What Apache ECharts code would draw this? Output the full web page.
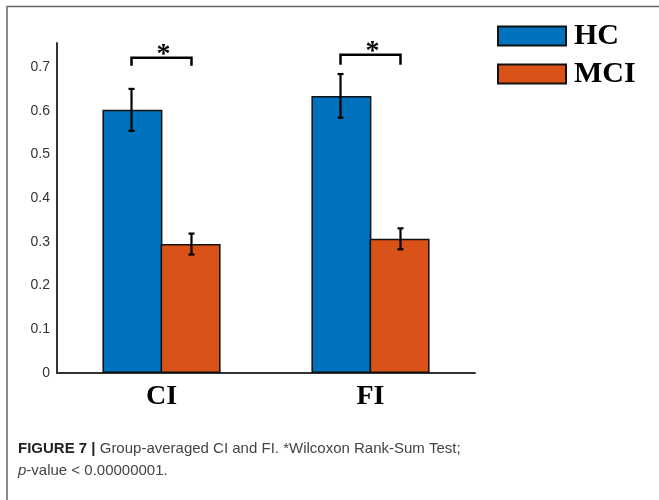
<!DOCTYPE html>
<html>
<head>
  <meta charset="UTF-8">
  <title>Group-averaged CI and FI</title>
  <script src="https://cdn.jsdelivr.net/npm/echarts@6/dist/echarts.min.js"></script>
  <style>
    html, body { margin: 0; padding: 0; background: #fff; }
  </style>
</head>
<body>
  <div id="chart" style="width: 659px; height: 500px;"></div>
  <script>
    // data
    const categories = ['CI', 'FI'];
    const groups = ['HC', 'MCI'];
    const hcMean = [0.602, 0.634];
    const hcErr = [0.048, 0.050];
    const mciMean = [0.295, 0.307];
    const mciErr = [0.024, 0.024];
    // significance brackets: top of bracket and bottom of its legs
    const bracketTop = [0.721, 0.728];
    const bracketLeg = [0.703, 0.705];
    const yTicks = [0, 0.1, 0.2, 0.3, 0.4, 0.5, 0.6, 0.7];

    const BAR_FRAC = 0.287; // bar width as part of a category band
    const colors = ['#0072BD', '#D95319'];

    const chart = echarts.init(document.getElementById('chart'));

    // error bar drawn at the centre of the bar of one group
    function errorBarRenderer(side) {
      return function (params, api) {
        const i = api.value(0);
        const m = api.value(1);
        const e = api.value(2);
        const band = api.size([1, 0])[0];
        const off = side * band * BAR_FRAC / 2;
        const hi = api.coord([i, m + e]);
        const lo = api.coord([i, m - e]);
        const x = hi[0] + off;
        const cap = 3;
        const style = { stroke: '#000', lineWidth: 2.2 };
        return {
          type: 'group',
          children: [
            { type: 'line', shape: { x1: x, y1: hi[1], x2: x, y2: lo[1] }, style: style },
            { type: 'line', shape: { x1: x - cap, y1: hi[1], x2: x + cap, y2: hi[1] }, style: style },
            { type: 'line', shape: { x1: x - cap, y1: lo[1], x2: x + cap, y2: lo[1] }, style: style }
          ]
        };
      };
    }

    function bracketRenderer(params, api) {
      const i = api.value(0);
      const band = api.size([1, 0])[0];
      const off = band * BAR_FRAC / 2;
      const top = api.coord([i, api.value(1)]);
      const leg = api.coord([i, api.value(2)]);
      const cx = top[0];
      return {
        type: 'group',
        children: [
          {
            type: 'polyline',
            shape: { points: [[cx - off, leg[1]], [cx - off, top[1]], [cx + off, top[1]], [cx + off, leg[1]]] },
            style: { stroke: '#000', lineWidth: 2.5, fill: null }
          },
          {
            type: 'text',
            x: cx + 2,
            y: top[1] + 11,
            style: {
              text: '*',
              fill: '#000',
              font: 'bold 28px "Liberation Serif"',
              align: 'center',
              verticalAlign: 'bottom'
            }
          }
        ]
      };
    }

    const option = {
      animation: false,
      backgroundColor: '#fff',
      grid: { left: 57, right: 184, top: 43, bottom: 127 },
      legend: {
        data: groups,
        orient: 'vertical',
        left: 497,
        top: 21,
        itemWidth: 68,
        itemHeight: 19,
        itemGap: 8,
        icon: 'rect',
        padding: 0,
        textStyle: {
          fontFamily: 'Liberation Serif',
          fontWeight: 'bold',
          fontSize: 30,
          color: '#000',
          padding: [0, 0, 0, 3]
        }
      },
      xAxis: {
        type: 'category',
        data: categories,
        axisLine: { lineStyle: { color: '#333', width: 2 } },
        axisTick: { show: false },
        axisLabel: {
          margin: 10,
          fontFamily: 'Liberation Serif',
          fontWeight: 'bold',
          fontSize: 28,
          color: '#000'
        }
      },
      yAxis: {
        type: 'value',
        min: 0,
        max: 0.755,
        interval: 0.1,
        axisLine: { show: true, lineStyle: { color: '#333', width: 2 } },
        axisTick: { show: false },
        splitLine: { show: false },
        axisLabel: {
          margin: 7,
          showMaxLabel: false,
          fontFamily: 'Liberation Sans',
          fontSize: 14,
          color: '#333',
          formatter: function (v) {
            const t = yTicks.find(function (k) { return Math.abs(k - v) < 1e-9; });
            return t === undefined ? '' : String(t);
          }
        }
      },
      series: [
        {
          name: 'HC',
          type: 'bar',
          barWidth: (BAR_FRAC * 100) + '%',
          barGap: '-3%',
          data: hcMean,
          itemStyle: { color: colors[0], borderColor: '#111', borderWidth: 1.5 }
        },
        {
          name: 'MCI',
          type: 'bar',
          barWidth: (BAR_FRAC * 100) + '%',
          barGap: '-3%',
          data: mciMean,
          itemStyle: { color: colors[1], borderColor: '#111', borderWidth: 1.5 }
        },
        {
          type: 'custom',
          renderItem: errorBarRenderer(-1),
          data: hcMean.map(function (m, i) { return [i, m, hcErr[i]]; }),
          z: 10
        },
        {
          type: 'custom',
          renderItem: errorBarRenderer(1),
          data: mciMean.map(function (m, i) { return [i, m, mciErr[i]]; }),
          z: 10
        },
        {
          type: 'custom',
          renderItem: bracketRenderer,
          data: bracketTop.map(function (t, i) { return [i, t, bracketLeg[i]]; }),
          z: 10
        }
      ],
      graphic: [
        {
          type: 'polyline',
          shape: { points: [[7, 500], [7, 6.5], [659, 6.5]] },
          style: { stroke: '#666', lineWidth: 1.5, fill: null },
          silent: true
        },
        {
          type: 'text',
          left: 18,
          top: 441,
          style: {
            text: '{b|FIGURE 7 |} Group-averaged CI and FI. *Wilcoxon Rank-Sum Test;',
            font: '15px "Liberation Sans"',
            fill: '#444',
            rich: {
              b: { fontWeight: 'bold', fontSize: 15, fontFamily: 'Liberation Sans', fill: '#222' }
            }
          }
        },
        {
          type: 'text',
          left: 18,
          top: 463,
          style: {
            text: '{i|p}-value < 0.00000001.',
            font: '15px "Liberation Sans"',
            fill: '#444',
            rich: {
              i: { fontStyle: 'italic', fontSize: 15, fontFamily: 'Liberation Sans', fill: '#444' }
            }
          }
        }
      ]
    };

    chart.setOption(option);
  </script>
</body>
</html>
